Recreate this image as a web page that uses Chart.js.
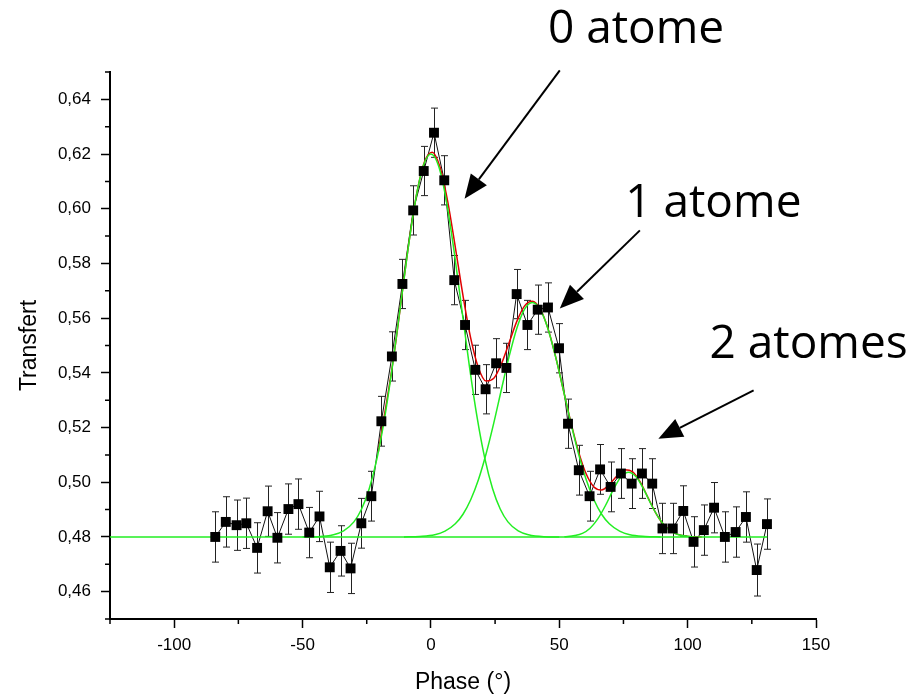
<!DOCTYPE html>
<html>
<head>
<meta charset="utf-8">
<script src="https://cdn.jsdelivr.net/npm/chart.js@4.4.1/dist/chart.umd.min.js"></script>
<style>
  html, body { margin: 0; background: #fff; }
  canvas { display: block; }
</style>
</head>
<body>
<canvas id="chart" width="920" height="696"></canvas>
<script>
// measured points (phase in degrees, transfer)
const PHASE = [-84.0, -79.9, -75.7, -71.9, -67.7, -63.6, -59.8, -55.5, -51.6, -47.4,
  -43.4, -39.4, -35.2, -31.3, -27.1, -23.2, -19.3, -15.2, -11.1, -6.9,
  -2.8, 1.2, 5.2, 9.1, 13.3, 17.3, 21.3, 25.4, 29.4, 33.4,
  37.6, 41.6, 45.6, 49.9, 53.4, 57.6, 61.8, 65.9, 70.0, 74.0,
  78.2, 82.2, 86.2, 90.2, 94.2, 98.3, 102.3, 106.3, 110.3, 114.5,
  118.7, 122.7, 126.9, 130.9];
const TRANSFERT = [0.4800, 0.4855, 0.4843, 0.4850, 0.4760, 0.4894, 0.4797, 0.4902, 0.4920, 0.4816,
  0.4875, 0.4689, 0.4749, 0.4685, 0.4850, 0.4949, 0.5223, 0.5460, 0.5725, 0.5994,
  0.6138, 0.6278, 0.6104, 0.5739, 0.5575, 0.5411, 0.5340, 0.5435, 0.5418, 0.5688,
  0.5575, 0.5631, 0.5639, 0.5490, 0.5214, 0.5044, 0.4949, 0.5047, 0.4983, 0.5032,
  0.4995, 0.5032, 0.4995, 0.4831, 0.4831, 0.4895, 0.4782, 0.4825, 0.4907, 0.4800,
  0.4818, 0.4873, 0.4679, 0.4847];
const ERR = [0.0092, 0.0092, 0.0092, 0.0092, 0.0092, 0.0092, 0.0092, 0.0092, 0.0092, 0.0092,
  0.0092, 0.0092, 0.0092, 0.0092, 0.0091, 0.0091, 0.0091, 0.0090, 0.0090, 0.0090,
  0.0090, 0.0090, 0.0090, 0.0090, 0.0090, 0.0090, 0.0090, 0.0090, 0.0090, 0.0090,
  0.0090, 0.0090, 0.0090, 0.0090, 0.0090, 0.0091, 0.0091, 0.0091, 0.0091, 0.0091,
  0.0091, 0.0091, 0.0091, 0.0092, 0.0092, 0.0092, 0.0092, 0.0092, 0.0092, 0.0092,
  0.0092, 0.0092, 0.0095, 0.0092];

// fitted components (green) and their sum (red)
const FIT0_X = [-50, -44, -38, -34, -30, -27, -24, -21, -18, -15, -12, -9, -6, -3, 0,
  3, 6, 9, 12, 15, 18, 21, 24, 27, 30, 34, 38, 44, 50];
const FIT0_Y = [0.4800, 0.4801, 0.4808, 0.4822, 0.4855, 0.4902, 0.4977, 0.5087, 0.5237, 0.5424,
  0.5635, 0.5847, 0.6030, 0.6156, 0.6200, 0.6156, 0.6030, 0.5847, 0.5635, 0.5424,
  0.5237, 0.5087, 0.4977, 0.4902, 0.4855, 0.4822, 0.4808, 0.4801, 0.4800];
const FIT1_X = [-10.5, -4.5, 1.5, 5.5, 9.5, 12.5, 15.5, 18.5, 21.5, 24.5, 27.5, 30.5, 33.5, 36.5, 39.5,
  42.5, 45.5, 48.5, 51.5, 54.5, 57.5, 60.5, 63.5, 66.5, 69.5, 73.5, 77.5, 83.5, 89.5];
const FIT1_Y = [0.4800, 0.4802, 0.4808, 0.4821, 0.4848, 0.4883, 0.4936, 0.5009, 0.5104, 0.5217,
  0.5341, 0.5461, 0.5564, 0.5633, 0.5657, 0.5633, 0.5564, 0.5461, 0.5341, 0.5217,
  0.5104, 0.5009, 0.4936, 0.4883, 0.4848, 0.4821, 0.4808, 0.4802, 0.4800];
const FIT2_X = [52, 56, 59, 62, 65, 68, 71, 74, 77, 80, 83, 86, 89, 92, 95, 98, 102];
const FIT2_Y = [0.4801, 0.4805, 0.4813, 0.4832, 0.4866, 0.4915, 0.4972, 0.5019, 0.5037, 0.5019,
  0.4972, 0.4915, 0.4866, 0.4832, 0.4813, 0.4805, 0.4801];
const BASE_X = [-125, 131];
const BASE_Y = [0.48, 0.48];
const SUM_X = [-20.5, -14.5, -8.5, -5.5, -2.5, 0.5, 3.5, 6.5, 9.5, 12.5, 15.5, 18.5, 21.5, 24.5,
  27.5, 30.5, 33.5, 36.5, 39.5, 42.5, 45.5, 48.5, 51.5, 54.5, 57.5, 60.5, 63.5, 66.5,
  69.5, 72.5, 75.5, 78.5, 81.5, 84.5, 87.5, 90.5, 94.5, 99.5, 105.5];
const SUM_Y = [0.5110, 0.5458, 0.5881, 0.6057, 0.6172, 0.6207, 0.6154, 0.6029, 0.5860, 0.5682,
  0.5527, 0.5419, 0.5370, 0.5380, 0.5433, 0.5511, 0.5589, 0.5645, 0.5662, 0.5635,
  0.5565, 0.5462, 0.5341, 0.5220, 0.5112, 0.5030, 0.4983, 0.4972, 0.4992, 0.5024,
  0.5046, 0.5039, 0.5001, 0.4945, 0.4889, 0.4847, 0.4816, 0.4803, 0.4800];

// axes
const X_TICKS = [-100, -50, 0, 50, 100, 150];
const X_MINOR = [-125, -75, -25, 25, 75, 125];
const Y_TICKS = [0.46, 0.48, 0.50, 0.52, 0.54, 0.56, 0.58, 0.60, 0.62, 0.64];
const Y_MINOR = [0.45, 0.47, 0.49, 0.51, 0.53, 0.55, 0.57, 0.59, 0.61, 0.63, 0.65];

// annotation labels and arrows, in data units
const LABELS = [
  { text: '0 atome', x: 79.9, y: 0.6653 },
  { text: '1 atome', x: 110.0, y: 0.6016 },
  { text: '2 atomes', x: 147.1, y: 0.5501 }
];
const ARROWS = [
  { x0: 50.2, y0: 0.6506, x1: 13.1, y1: 0.6037 },
  { x0: 81.4, y0: 0.5921, x1: 50.2, y1: 0.5635 },
  { x0: 125.7, y0: 0.5336, x1: 88.6, y1: 0.5159 }
];

const pts = (xs, ys) => xs.map((x, i) => ({ x, y: ys[i] }));
const GREEN = '#22ee22';

const errorBars = {
  id: 'errorBars',
  beforeDatasetsDraw(chart) {
    const { ctx, scales: { x, y } } = chart;
    ctx.save();
    ctx.strokeStyle = '#222';
    ctx.lineWidth = 1;
    PHASE.forEach((p, i) => {
      const px = Math.round(x.getPixelForValue(p)) + 0.5;
      const top = y.getPixelForValue(TRANSFERT[i] + ERR[i]);
      const bot = y.getPixelForValue(TRANSFERT[i] - ERR[i]);
      ctx.beginPath();
      ctx.moveTo(px, top); ctx.lineTo(px, bot);
      ctx.moveTo(px - 3.5, top); ctx.lineTo(px + 3.5, top);
      ctx.moveTo(px - 3.5, bot); ctx.lineTo(px + 3.5, bot);
      ctx.stroke();
    });
    ctx.restore();
  }
};

const minorTicks = {
  id: 'minorTicks',
  afterDraw(chart) {
    const { ctx, chartArea, scales: { x, y } } = chart;
    ctx.save();
    ctx.strokeStyle = '#000';
    ctx.lineWidth = 1.5;
    ctx.beginPath();
    Y_MINOR.forEach(v => {
      const py = y.getPixelForValue(v);
      ctx.moveTo(chartArea.left - 5, py); ctx.lineTo(chartArea.left, py);
    });
    X_MINOR.forEach(v => {
      const px = x.getPixelForValue(v);
      ctx.moveTo(px, chartArea.bottom); ctx.lineTo(px, chartArea.bottom + 5);
    });
    ctx.stroke();
    ctx.restore();
  }
};

const annotations = {
  id: 'annotations',
  afterDraw(chart) {
    const { ctx, scales: { x, y } } = chart;
    ctx.save();
    ctx.fillStyle = '#000';
    ctx.strokeStyle = '#000';
    ctx.font = '46px "Comic Sans MS", "Open Sans", sans-serif';
    ctx.textAlign = 'center';
    ctx.textBaseline = 'middle';
    LABELS.forEach(l => ctx.fillText(l.text, x.getPixelForValue(l.x), y.getPixelForValue(l.y)));

    ARROWS.forEach(a => {
      const x0 = x.getPixelForValue(a.x0), y0 = y.getPixelForValue(a.y0);
      const x1 = x.getPixelForValue(a.x1), y1 = y.getPixelForValue(a.y1);
      const ang = Math.atan2(y1 - y0, x1 - x0);
      const len = 24, half = 10;
      const bx = x1 - len * Math.cos(ang), by = y1 - len * Math.sin(ang);
      ctx.lineWidth = 2;
      ctx.beginPath();
      ctx.moveTo(x0, y0); ctx.lineTo(bx, by);
      ctx.stroke();
      ctx.beginPath();
      ctx.moveTo(x1, y1);
      ctx.lineTo(bx + half * Math.sin(ang), by - half * Math.cos(ang));
      ctx.lineTo(bx - half * Math.sin(ang), by + half * Math.cos(ang));
      ctx.closePath();
      ctx.fill();
    });
    ctx.restore();
  }
};

Chart.defaults.font.family = '"Liberation Sans", Arial, sans-serif';
Chart.defaults.color = '#000';

const curve = (data, color, order) => ({
  data, showLine: true, borderColor: color, borderWidth: 1.5,
  pointRadius: 0, cubicInterpolationMode: 'monotone', order
});

new Chart(document.getElementById('chart'), {
  type: 'scatter',
  data: {
    datasets: [
      { data: pts(PHASE, TRANSFERT), showLine: false, pointStyle: 'rect', pointRadius: 7,
        backgroundColor: '#000', borderColor: '#000', borderWidth: 0, order: 0 },
      curve(pts(FIT0_X, FIT0_Y), GREEN, 1),
      curve(pts(FIT1_X, FIT1_Y), GREEN, 1),
      curve(pts(FIT2_X, FIT2_Y), GREEN, 1),
      curve(pts(BASE_X, BASE_Y), GREEN, 1),
      curve(pts(SUM_X, SUM_Y), '#e00000', 2),
      { data: pts(PHASE, TRANSFERT), showLine: true, borderColor: '#111', borderWidth: 1,
        pointRadius: 0, order: 3 }
    ]
  },
  options: {
    responsive: false,
    animation: false,
    devicePixelRatio: 1,
    layout: { padding: { left: 0, top: 72, right: 104, bottom: 0 } },
    plugins: { legend: { display: false }, tooltip: { enabled: false } },
    scales: {
      x: {
        type: 'linear', min: -125, max: 150,
        afterBuildTicks: s => { s.ticks = X_TICKS.map(v => ({ value: v })); },
        afterFit: s => { s.height = 77; },
        grid: { drawOnChartArea: false, tickLength: 9, tickWidth: 1.5, color: '#000' },
        border: { color: '#000', width: 2 },
        ticks: { font: { size: 17 }, padding: 7, maxRotation: 0 },
        title: { display: true, text: 'Phase (°)', font: { size: 23 }, padding: { top: 0, bottom: 0 } }
      },
      y: {
        type: 'linear', min: 0.45, max: 0.65,
        afterBuildTicks: s => { s.ticks = Y_TICKS.map(v => ({ value: v })); },
        afterFit: s => { s.width = 110; },
        grid: { drawOnChartArea: false, tickLength: 9, tickWidth: 1.5, color: '#000' },
        border: { color: '#000', width: 2 },
        ticks: { font: { size: 17 }, padding: 10, callback: v => v.toFixed(2).replace('.', ',') },
        title: { display: true, text: 'Transfert', font: { size: 23 }, padding: { top: 16, bottom: 0 } }
      }
    }
  },
  plugins: [errorBars, minorTicks, annotations]
});
</script>
</body>
</html>
